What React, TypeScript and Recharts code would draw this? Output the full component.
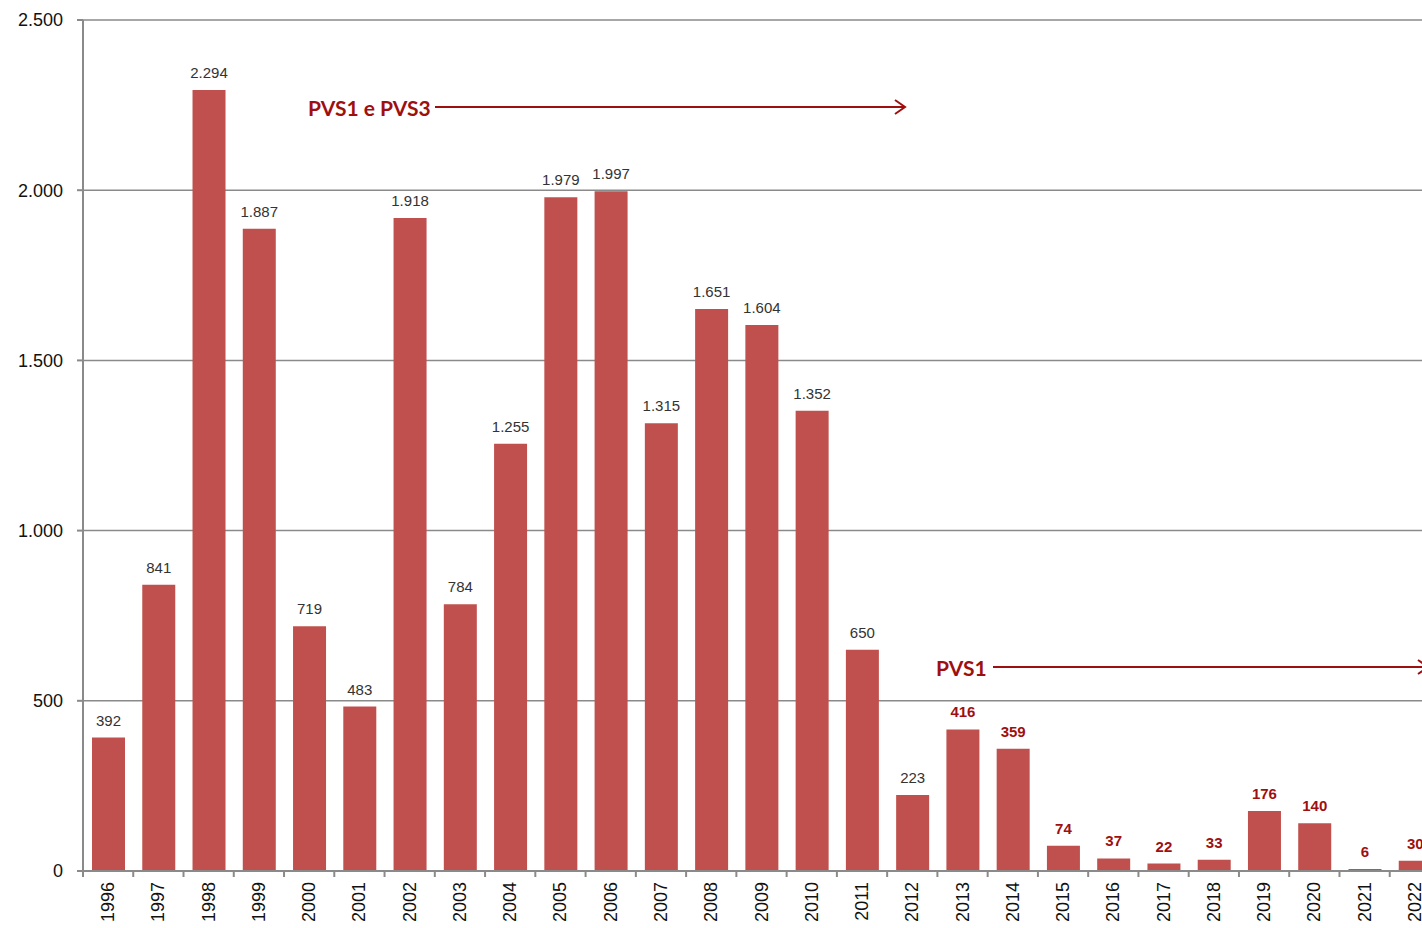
import React from "react";
import { BarChart, Bar, XAxis, YAxis, CartesianGrid, LabelList } from "recharts";

const years = [
  "1996", "1997", "1998", "1999", "2000", "2001", "2002", "2003", "2004",
  "2005", "2006", "2007", "2008", "2009", "2010", "2011", "2012", "2013",
  "2014", "2015", "2016", "2017", "2018", "2019", "2020", "2021", "2022",
];
const values = [
  392, 841, 2294, 1887, 719, 483, 1918, 784, 1255, 1979, 1997, 1315, 1651,
  1604, 1352, 650, 223, 416, 359, 74, 37, 22, 33, 176, 140, 6, 30,
];
const yTicks = [0, 500, 1000, 1500, 2000, 2500];
const pvs1From = "2013";

const data = years.map((year, i) => ({ year, value: values[i] }));

const fmt = (v: number) => String(v).replace(/\B(?=(\d{3})+(?!\d))/g, ".");

const BAND = 50.27;
const DARK_RED = "#a00f0f";

// tick y arrives already shifted by tickSize + tickMargin (8px)
const YearTick = ({ x, y, payload }: any) => (
  <g>
    <line x1={x - BAND / 2} y1={y - 9} x2={x - BAND / 2} y2={y - 2} stroke="#8a8a8a" strokeWidth={2} />
    <text
      transform={`translate(${x + 6},${y + 3}) rotate(-90)`}
      textAnchor="end"
      fontSize={18}
      fontFamily="Liberation Sans, Arial, sans-serif"
      fill="#111"
    >
      {payload.value}
    </text>
  </g>
);

const BarLabel = ({ x, y, width, value, index }: any) => {
  const pvs1 = years[index] >= pvs1From;
  return (
    <text
      x={x + width / 2}
      y={y - 12}
      textAnchor="middle"
      fontSize={15}
      fontWeight={pvs1 ? "bold" : "normal"}
      fontFamily="Liberation Sans, Arial, sans-serif"
      fill={pvs1 ? DARK_RED : "#333"}
    >
      {fmt(value)}
    </text>
  );
};

export default function App() {
  return (
    <div style={{ position: "absolute", left: 8, top: 8, width: 1414, height: 920, overflow: "hidden" }}>
      <div style={{ position: "relative", width: 1440, height: 925 }}>
        <BarChart
          width={1440}
          height={925}
          data={data}
          margin={{ top: 12, right: 8, left: 0, bottom: 0 }}
        >
          <CartesianGrid vertical={false} stroke="#8a8a8a" strokeWidth={1.5} />
          <XAxis
            dataKey="year"
            height={62}
            interval={0}
            tickLine={false}
            axisLine={{ stroke: "#8a8a8a", strokeWidth: 2 }}
            tick={<YearTick />}
          />
          <YAxis
            width={75}
            domain={[0, 2500]}
            ticks={yTicks}
            tickFormatter={fmt}
            tickSize={6}
            tickMargin={14}
            tickLine={{ stroke: "#8a8a8a", strokeWidth: 2 }}
            axisLine={{ stroke: "#8a8a8a", strokeWidth: 2 }}
            tick={{ fontSize: 18, fill: "#111", fontFamily: "Liberation Sans, Arial, sans-serif" }}
          />
          <Bar dataKey="value" fill="#c0504d" barSize={33} isAnimationActive={false}>
            <LabelList dataKey="value" content={<BarLabel />} />
          </Bar>
        </BarChart>
        <svg
          width={1440}
          height={925}
          style={{ position: "absolute", left: 0, top: 0, pointerEvents: "none" }}
        >
          <g fontFamily="Lato, Open Sans, sans-serif" fontWeight="bold" fontSize={21} fill={DARK_RED}>
            <text x={300} y={99} dominantBaseline="central">PVS1 e PVS3</text>
            <line x1={427} y1={99} x2={897} y2={99} stroke={DARK_RED} strokeWidth={2} />
            <polyline points="887,92 897,99 887,106" fill="none" stroke={DARK_RED} strokeWidth={2} />
            <text x={928} y={659} dominantBaseline="central">PVS1</text>
            <line x1={985} y1={659} x2={1420} y2={659} stroke={DARK_RED} strokeWidth={2} />
            <polyline points="1410,652 1420,659 1410,666" fill="none" stroke={DARK_RED} strokeWidth={2} />
          </g>
        </svg>
      </div>
    </div>
  );
}
